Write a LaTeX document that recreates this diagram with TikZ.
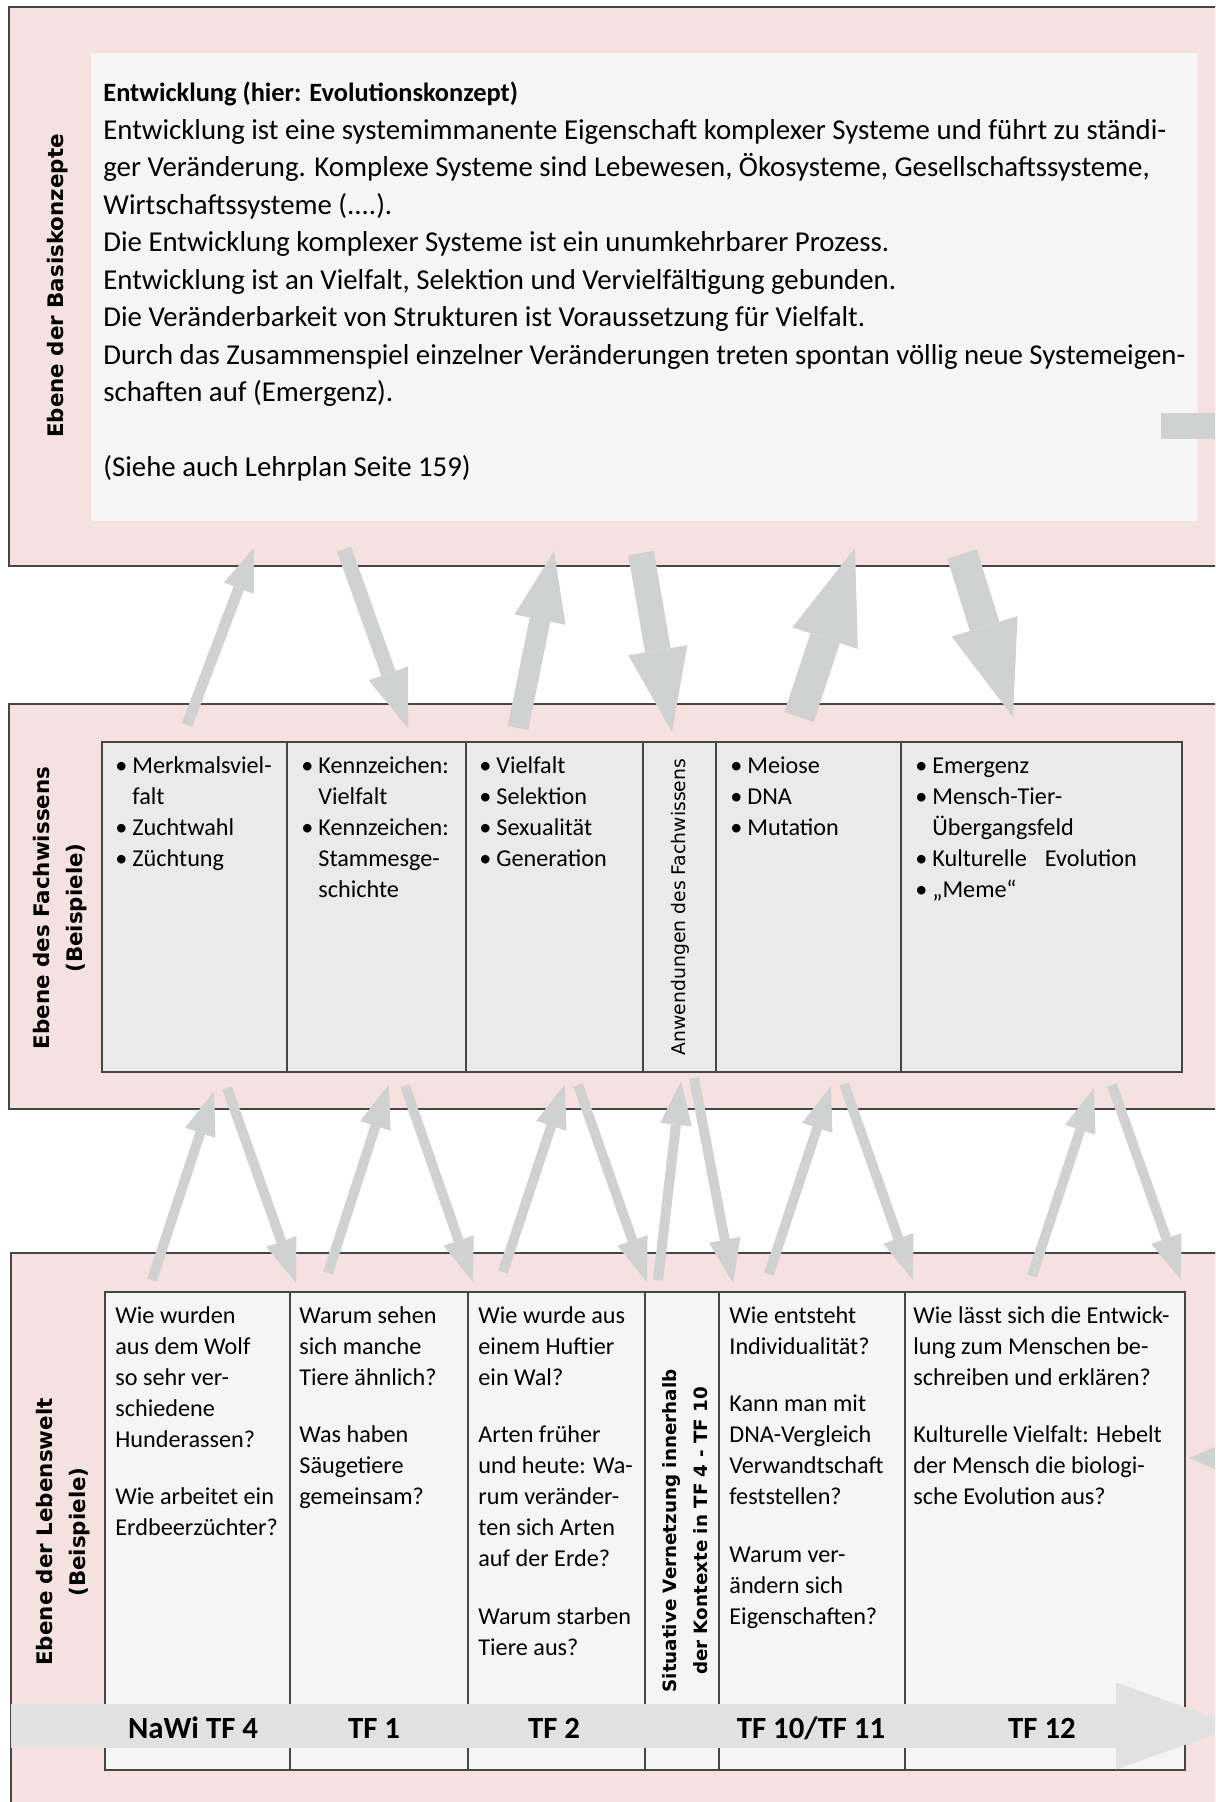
\documentclass[tikz,border=0pt]{standalone}
\usepackage{fontspec}
\setmainfont{Carlito}
\newfontfamily\labfont{DejaVu Sans}
\usetikzlibrary{arrows.meta}
\definecolor{BandPink}{RGB}{246,225,225}
\definecolor{BoxGray}{RGB}{245,245,245}
\definecolor{CellGray}{RGB}{234,234,234}
\definecolor{ArrGray}{RGB}{208,210,210}
\definecolor{TimeGray}{RGB}{225,225,225}
\definecolor{FrameGray}{RGB}{70,70,70}
\newcommand{\lns}[1]{\begin{tabular}[t]{@{}l@{}}#1\end{tabular}}
\newcommand{\bu}{\makebox[8.5pt][l]{\textbullet}}
\newcommand{\ind}{\hspace*{8.5pt}}
\tikzset{
  band/.style={fill=BandPink,draw=FrameGray,line width=0.75pt},
  cellA/.style={fill=CellGray,draw=FrameGray,line width=0.6pt},
  cellB/.style={fill=BoxGray,draw=FrameGray,line width=0.6pt},
  boxtext/.style={inner sep=0pt,anchor=base west,font=\fontsize{14.4pt}{18.75pt}\selectfont},
  celltext/.style={inner sep=0pt,anchor=base west,font=\fontsize{12.1pt}{15.5pt}\selectfont},
  side/.style={inner sep=0pt,rotate=90,align=center,font=\labfont\bfseries\fontsize{10.7pt}{16.5pt}\selectfont},
  tf/.style={inner sep=0pt,anchor=base,font=\bfseries\fontsize{15.4pt}{18pt}\selectfont},
}
\tikzset{arr/.style n args={3}{draw=ArrGray,line width=#1,-{Triangle[width=#2,length=#3,line width=0pt]}}}

\begin{document}
\begin{tikzpicture}[x=0.5pt,y=-0.5pt]
\useasboundingbox (0,0) rectangle (1215,1802);
\clip (0,0) rectangle (1215,1802);
% three levels
\draw[band] (9,7) rectangle (1240,566);
\draw[band] (9,704) rectangle (1240,1109);
\draw[band] (11,1253) rectangle (1240,1830);
\fill[BoxGray] (91,53) rectangle (1198,521);
% Fachwissen table
\draw[cellA] (102,742) rectangle (287,1072);
\draw[cellA] (287,742) rectangle (466,1072);
\draw[cellA] (466,742) rectangle (643,1072);
\draw[cellA] (643,742) rectangle (716,1072);
\draw[cellA] (716,742) rectangle (901,1072);
\draw[cellA] (901,742) rectangle (1182,1072);
% Lebenswelt table
\draw[cellB] (105,1292) rectangle (290,1770);
\draw[cellB] (290,1292) rectangle (468,1770);
\draw[cellB] (468,1292) rectangle (645,1770);
\draw[cellB] (645,1292) rectangle (719,1770);
\draw[cellB] (719,1292) rectangle (905,1770);
\draw[cellB] (905,1292) rectangle (1185,1770);

\node[side] (basis) at (58,286) {Ebene der Basiskonzepte};
\node[side] (fach) at (60,908) {Ebene des Fachwissens\\(Beispiele)};
\node[side] (welt) at (63,1532) {Ebene der Lebenswelt\\(Beispiele)};

\node[boxtext] (konzept) at (103,102) {\lns{{\fontsize{13.2pt}{18.75pt}\selectfont\bfseries Entwicklung (hier: Evolutionskonzept)}\\
Entwicklung ist eine systemimmanente Eigenschaft komplexer Systeme und führt zu ständi-\\
ger Veränderung. Komplexe Systeme sind Lebewesen, Ökosysteme, Gesellschaftssysteme,\\
Wirtschaftssysteme (....).\\
Die Entwicklung komplexer Systeme ist ein unumkehrbarer Prozess.\\
Entwicklung ist an Vielfalt, Selektion und Vervielfältigung gebunden.\\
Die Veränderbarkeit von Strukturen ist Voraussetzung für Vielfalt.\\
Durch das Zusammenspiel einzelner Veränderungen treten spontan völlig neue Systemeigen-\\
schaften auf (Emergenz).\\[18.75pt]
(Siehe auch Lehrplan Seite 159)}};

\node[celltext] (fw1) at (115,773) {\lns{\bu Merkmalsviel-\\\ind falt\\\bu Zuchtwahl\\\bu Züchtung}};
\node[celltext] (fw2) at (301,773) {\lns{\bu Kennzeichen:\\\ind Vielfalt\\\bu Kennzeichen:\\\ind Stammesge-\\\ind schichte}};
\node[celltext] (fw3) at (479,773) {\lns{\bu Vielfalt\\\bu Selektion\\\bu Sexualität\\\bu Generation}};
\node[inner sep=0pt,rotate=90,font=\labfont\fontsize{9.4pt}{12pt}\selectfont] (fw4) at (680,907) {Anwendungen des Fachwissens};
\node[celltext] (fw5) at (730,773) {\lns{\bu Meiose\\\bu DNA\\\bu Mutation}};
\node[celltext] (fw6) at (915,773) {\lns{\bu Emergenz\\\bu Mensch-Tier-\\\ind Übergangsfeld\\\bu Kulturelle\hspace{9pt}Evolution\\\bu „Meme“}};

\node[celltext] (lw1) at (115,1323) {\lns{Wie wurden\\aus dem Wolf\\so sehr ver-\\schiedene\\Hunderassen?\\[13.3pt]Wie arbeitet ein\\Erdbeerzüchter?}};
\node[celltext] (lw2) at (299,1323) {\lns{Warum sehen\\sich manche\\Tiere ähnlich?\\[13.3pt]Was haben\\Säugetiere\\gemeinsam?}};
\node[celltext] (lw3) at (478,1323) {\lns{Wie wurde aus\\einem Huftier\\ein Wal?\\[13.3pt]Arten früher\\und heute: Wa-\\rum veränder-\\ten sich Arten\\auf der Erde?\\[13.3pt]Warum starben\\Tiere aus?}};
\node[inner sep=0pt,rotate=90,align=center,font=\labfont\bfseries\fontsize{9.15pt}{15.75pt}\selectfont] (lw4) at (685,1531) {Situative Vernetzung innerhalb\\der Kontexte in TF 4 - TF 10};
\node[celltext] (lw5) at (729,1323) {\lns{Wie entsteht\\Individualität?\\[13.3pt]Kann man mit\\DNA-Vergleich\\Verwandtschaft\\feststellen?\\[13.3pt]Warum ver-\\ändern sich\\Eigenschaften?}};
\node[celltext] (lw6) at (913,1323) {\lns{Wie lässt sich die Entwick-\\lung zum Menschen be-\\schreiben und erklären?\\[13.3pt]Kulturelle Vielfalt: Hebelt\\der Mensch die biologi-\\sche Evolution aus?}};

% arrows Basiskonzepte <-> Fachwissen
\coordinate (a1) at (187,725);  \coordinate (a1t) at (254,548);
\coordinate (a2) at (344,549);  \coordinate (a2t) at (408,728);
\coordinate (a3) at (518,728);  \coordinate (a3t) at (554,551);
\coordinate (a4) at (641,553);  \coordinate (a4t) at (672,732);
\coordinate (a5) at (799,717);  \coordinate (a5t) at (855,548);
\coordinate (a6) at (962,554);  \coordinate (a6t) at (1013,717);
\draw[arr={5.5pt}{16pt}{21.5pt}] (a1) -- (a1t);
\draw[arr={7.5pt}{21pt}{29pt}] (a2) -- (a2t);
\draw[arr={10.5pt}{26pt}{35pt}] (a3) -- (a3t);
\draw[arr={13pt}{30pt}{41.5pt}] (a4) -- (a4t);
\draw[arr={15.5pt}{34.5pt}{47.5pt}] (a5) -- (a5t);
\draw[arr={15.5pt}{34.5pt}{47.5pt}] (a6) -- (a6t);

% arrows Fachwissen <-> Lebenswelt
\coordinate (b1) at (152,1280);  \coordinate (b1t) at (214,1091);
\coordinate (b2) at (227,1088);  \coordinate (b2t) at (296,1283);
\coordinate (b3) at (328,1273);  \coordinate (b3t) at (389,1084);
\coordinate (b4) at (405,1086);  \coordinate (b4t) at (473,1282);
\coordinate (b5) at (503,1272);  \coordinate (b5t) at (565,1084);
\coordinate (b6) at (578,1085);  \coordinate (b6t) at (647,1282);
\coordinate (b7) at (658,1280);  \coordinate (b7t) at (681,1081);
\coordinate (b8) at (694,1078);  \coordinate (b8t) at (733,1283);
\coordinate (b9) at (769,1274);  \coordinate (b9t) at (831,1086);
\coordinate (b10) at (844,1084); \coordinate (b10t) at (913,1280);
\coordinate (b11) at (1032,1276); \coordinate (b11t) at (1094,1088);
\coordinate (b12) at (1112,1085); \coordinate (b12t) at (1181,1280);
\foreach \i in {1,...,12}
  \draw[arr={5pt}{16pt}{22pt}] (b\i) -- (b\i t);

% time line
\coordinate (time0) at (11,1726);
\coordinate (time1) at (1238,1726);
\draw[draw=TimeGray,line width=22pt,-{Triangle[width=43.5pt,length=61pt,line width=0pt]}] (time0) -- (time1);
\node[tf] (tf4) at (193,1738) {NaWi TF 4};
\node[tf] (tf1) at (374,1738) {TF 1};
\node[tf] (tf2) at (554,1738) {TF 2};
\node[tf] (tf10) at (811,1738) {TF 10/TF 11};
\node[tf] (tf12) at (1042,1738) {TF 12};

% cut pieces at the right edge
\fill[ArrGray] (1161,413) rectangle (1230,439);
\fill[ArrGray] (1189,1458) -- (1240,1436) -- (1240,1480) -- cycle;
\end{tikzpicture}
\end{document}
